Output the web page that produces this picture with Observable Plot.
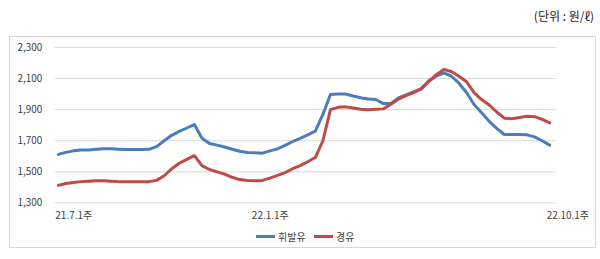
<!DOCTYPE html>
<html><head><meta charset="utf-8">
<script src="https://cdn.jsdelivr.net/npm/d3@7"></script>
<script src="https://cdn.jsdelivr.net/npm/@observablehq/plot@0.6"></script>
<style>
body{margin:0;background:#fff;font-family:"Noto Sans CJK KR","Noto Sans",sans-serif;}
#unit{position:absolute;right:6px;top:7px;font-size:12px;color:#222;}
#box{position:absolute;left:9px;top:36px;width:587px;height:212px;border:1px solid #d9d9d9;box-sizing:border-box;}
#chart{position:absolute;left:0;top:0;}
#legend{position:absolute;top:192px;left:0;width:100%;font-size:10px;color:#404040;}
.li{position:absolute;display:flex;align-items:center;}
.sw{display:inline-block;width:19px;height:3px;margin-right:3px;}
</style></head>
<body>
<div id="unit">(단위 : 원/ℓ)</div>
<div id="box"><div id="chart"></div>
<div id="legend">
<span class="li" style="left:246px"><span class="sw" style="background:#4a7ebb"></span>휘발유</span>
<span class="li" style="left:304px"><span class="sw" style="background:#be4b48"></span>경유</span>
</div></div>
<script>
const seriesNames = ["휘발유", "경유"];
const seriesColors = ["#4a7ebb", "#be4b48"];
const gasoline = [1612,1625,1635,1640,1640,1645,1648,1648,1645,1643,1643,1643,1645,1662,1700,1735,1760,1782,1804,1716,1682,1672,1660,1645,1632,1625,1623,1620,1635,1648,1670,1695,1715,1738,1762,1869,1997,2000,2000,1988,1977,1968,1965,1939,1940,1975,1995,2015,2032,2085,2115,2137,2115,2070,2010,1933,1880,1825,1780,1740,1740,1740,1738,1725,1700,1672];
const diesel = [1413,1425,1432,1437,1440,1442,1443,1440,1437,1437,1437,1437,1437,1445,1475,1520,1555,1580,1604,1540,1515,1500,1485,1465,1450,1445,1443,1445,1460,1477,1495,1520,1540,1565,1592,1700,1900,1915,1918,1910,1903,1900,1902,1905,1935,1968,1990,2010,2035,2080,2125,2158,2145,2115,2080,2010,1965,1930,1885,1845,1842,1850,1857,1855,1837,1815];
const tickWeeks = [0, 26, 65];
const tickLabels = ["21.7.1주", "22.1.1주", "22.10.1주"];
const yTicks = [1300, 1500, 1700, 1900, 2100, 2300];

const data = [];
gasoline.forEach((v, i) => data.push({week: i, value: v, series: seriesNames[0]}));
diesel.forEach((v, i) => data.push({week: i, value: v, series: seriesNames[1]}));

const chart = Plot.plot({
  width: 587, height: 192,
  marginTop: 10, marginBottom: 26, marginLeft: 45, marginRight: 39,
  style: {fontFamily: '"Noto Sans CJK KR","Noto Sans",sans-serif', fontSize: "10px", color: "#404040", background: "transparent"},
  x: {domain: [0, 65], insetLeft: 3, insetRight: 7},
  y: {domain: [1300, 2300]},
  color: {domain: seriesNames, range: seriesColors},
  marks: [
    Plot.ruleY(yTicks, {stroke: "#d9d9d9", strokeWidth: 1}),
    Plot.axisY(yTicks, {tickSize: 0, tickPadding: 13, tickFormat: d3.format(","), label: null}),
    Plot.axisX(tickWeeks, {tickSize: 0, tickPadding: 9, textAnchor: "start", dx: -3, tickFormat: (d, i) => tickLabels[tickWeeks.indexOf(d)], label: null}),
    Plot.line(data, {x: "week", y: "value", stroke: "series", strokeWidth: 3, strokeLinejoin: "round", curve: "linear"})
  ]
});
document.getElementById("chart").appendChild(chart);
</script>
</body></html>
